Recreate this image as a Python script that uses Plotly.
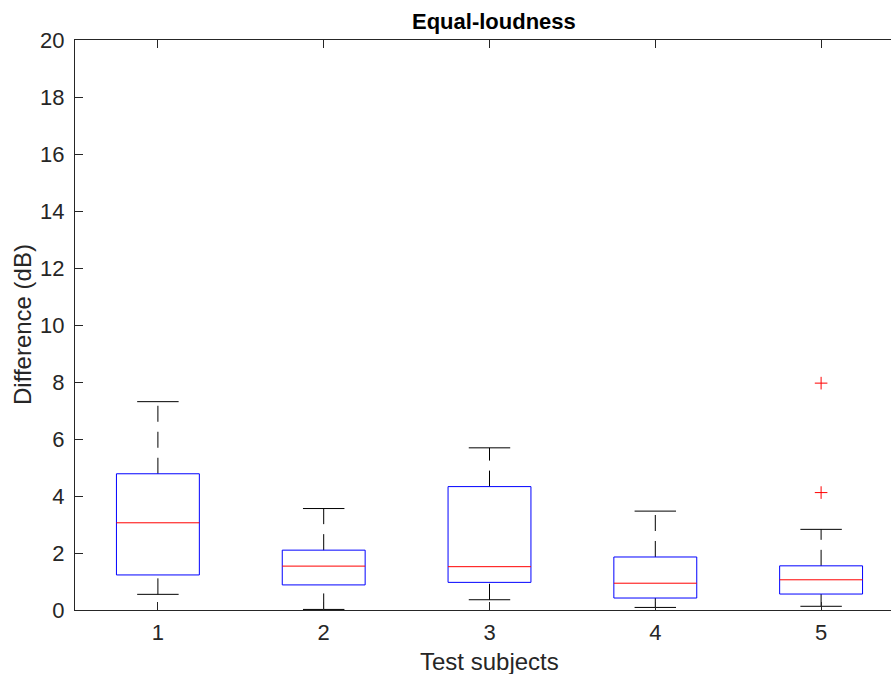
import plotly.graph_objects as go

# Data
subjects = [1, 2, 3, 4, 5]
lower_whisker = [0.55, 0.02, 0.36, 0.09, 0.13]
q1 = [1.23, 0.88, 0.97, 0.42, 0.56]
median = [3.06, 1.54, 1.52, 0.94, 1.06]
q3 = [4.78, 2.10, 4.33, 1.86, 1.55]
upper_whisker = [7.31, 3.56, 5.69, 3.47, 2.83]
outlier_x = [5, 5]
outlier_y = [7.96, 4.12]

title_text = "Equal-loudness"
x_title = "Test subjects"
y_title = "Difference (dB)"
y_ticks = [0, 2, 4, 6, 8, 10, 12, 14, 16, 18, 20]

BOX_HALF = 0.25
CAP_HALF = 0.125
AX_COLOR = "#262626"
FONT = "Liberation Sans, Arial, Helvetica, sans-serif"
TICK_SIZE = 22
LABEL_SIZE = 24

fig = go.Figure()

for i, s in enumerate(subjects):
    # whiskers (dashed), drawn bottom to top
    fig.add_trace(go.Scatter(x=[s, s], y=[q3[i], upper_whisker[i]], mode="lines",
                             line=dict(color="black", width=1, dash="16px,10px"),
                             hoverinfo="skip", showlegend=False))
    fig.add_trace(go.Scatter(x=[s, s], y=[lower_whisker[i], q1[i]], mode="lines",
                             line=dict(color="black", width=1, dash="16px,10px"),
                             hoverinfo="skip", showlegend=False))
    # caps
    fig.add_trace(go.Scatter(x=[s - CAP_HALF, s + CAP_HALF, None, s - CAP_HALF, s + CAP_HALF],
                             y=[upper_whisker[i], upper_whisker[i], None, lower_whisker[i], lower_whisker[i]],
                             mode="lines", line=dict(color="black", width=1),
                             hoverinfo="skip", showlegend=False))
    # box
    fig.add_trace(go.Scatter(x=[s - BOX_HALF, s + BOX_HALF, s + BOX_HALF, s - BOX_HALF, s - BOX_HALF],
                             y=[q1[i], q1[i], q3[i], q3[i], q1[i]],
                             mode="lines", line=dict(color="#0000ff", width=1),
                             hoverinfo="skip", showlegend=False))
    # median
    fig.add_trace(go.Scatter(x=[s - BOX_HALF, s + BOX_HALF], y=[median[i], median[i]],
                             mode="lines", line=dict(color="#ff0000", width=1),
                             hoverinfo="skip", showlegend=False))

fig.add_trace(go.Scatter(x=outlier_x, y=outlier_y, mode="markers",
                         marker=dict(symbol="cross-thin", size=9, color="#ff0000",
                                     line=dict(color="#ff0000", width=1)),
                         hoverinfo="skip", showlegend=False))

W, H = 891, 674
L, T, B = 75, 40, 64
plot_h = H - T - B
x_center_px = 489
title_center_px = 494

fig.update_layout(
    width=W, height=H,
    margin=dict(l=L, r=0, t=T, b=B, pad=0),
    paper_bgcolor="white", plot_bgcolor="white",
    font=dict(family=FONT, size=TICK_SIZE, color=AX_COLOR),
    xaxis=dict(range=[0.5, 0.5 + (W - L) / 165.8], tickmode="array", tickvals=subjects,
               ticktext=[str(s) for s in subjects],
               showgrid=False, zeroline=False, showline=True, linecolor=AX_COLOR, linewidth=1,
               mirror="ticks", ticks="inside", ticklen=8, tickcolor=AX_COLOR, tickwidth=1,
               ticklabelstandoff=3,
               tickfont=dict(size=TICK_SIZE, color=AX_COLOR, family=FONT)),
    yaxis=dict(range=[0, 20], tickmode="array", tickvals=y_ticks,
               showgrid=False, zeroline=False, showline=True, linecolor=AX_COLOR, linewidth=1,
               mirror=False, ticks="inside", ticklen=8, tickcolor=AX_COLOR, tickwidth=1,
               ticklabelstandoff=5,
               tickfont=dict(size=TICK_SIZE, color=AX_COLOR, family=FONT)),
    annotations=[
        dict(text="<b>" + title_text + "</b>", xref="paper", yref="paper",
             x=(title_center_px - L) / (W - L), y=1 + 18 / plot_h, xanchor="center", yanchor="middle",
             showarrow=False, font=dict(size=22, color="black", family=FONT)),
        dict(text=x_title, xref="paper", yref="paper",
             x=(x_center_px - L) / (W - L), y=-(661 - (T + plot_h)) / plot_h,
             xanchor="center", yanchor="middle",
             showarrow=False, font=dict(size=LABEL_SIZE, color=AX_COLOR, family=FONT)),
        dict(text=y_title, xref="paper", yref="paper",
             x=-(L - 22) / (W - L), y=(610 - 324) / plot_h, textangle=-90,
             xanchor="center", yanchor="middle",
             showarrow=False, font=dict(size=LABEL_SIZE, color=AX_COLOR, family=FONT)),
    ],
)

fig.write_html("out.html")
